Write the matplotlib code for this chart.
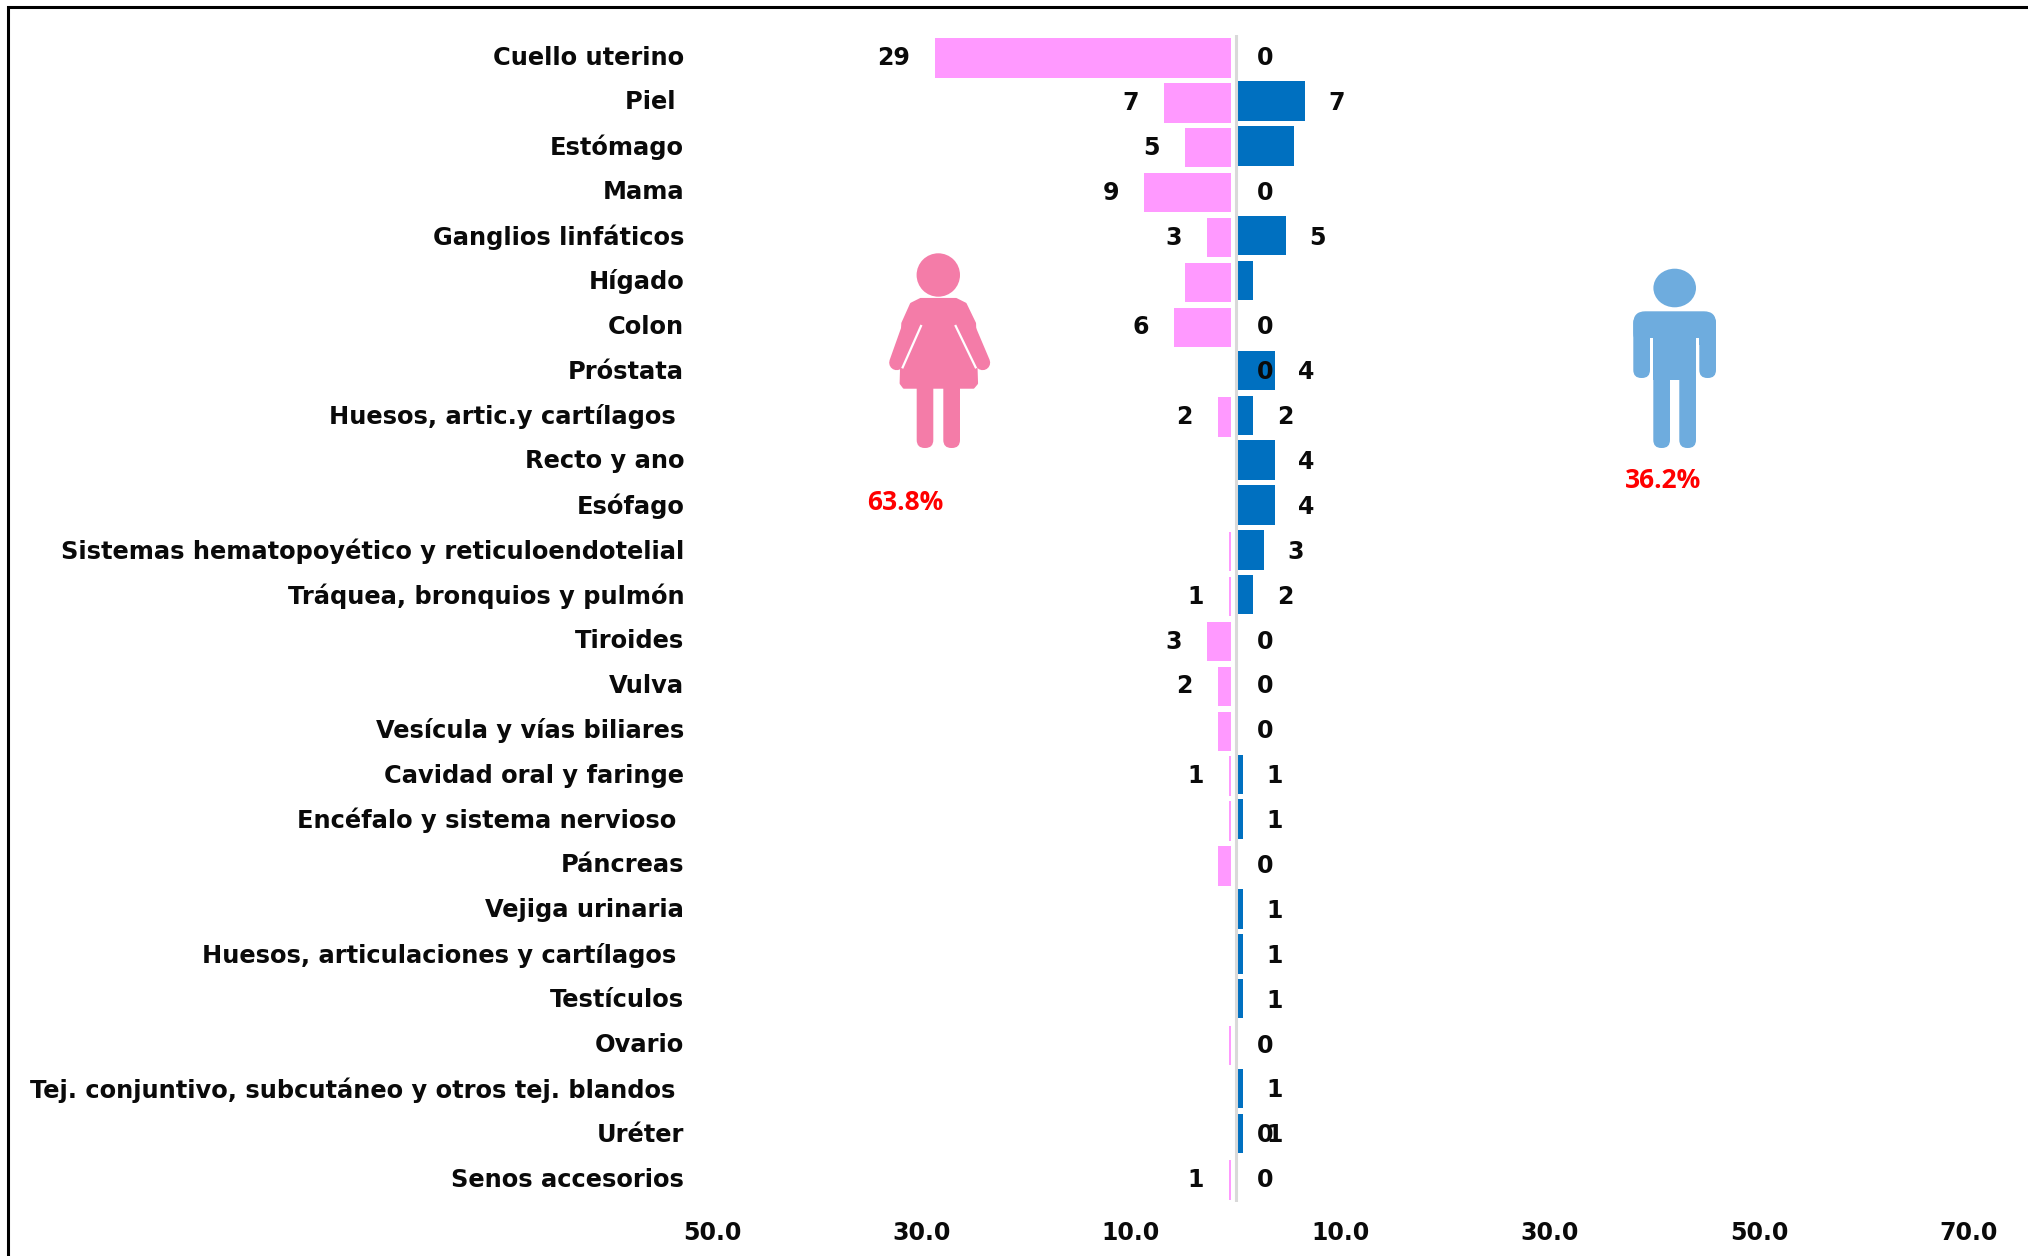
import matplotlib
matplotlib.use('Agg')
import matplotlib.pyplot as plt
from matplotlib.patches import Ellipse, FancyBboxPatch, Polygon, Rectangle
from matplotlib.ticker import FuncFormatter

categories = ['Cuello uterino', 'Piel ', 'Estómago', 'Mama', 'Ganglios linfáticos', 'Hígado', 'Colon',
              'Próstata', 'Huesos, artic.y cartílagos ', 'Recto y ano', 'Esófago',
              'Sistemas hematopoyético y reticuloendotelial', 'Tráquea, bronquios y pulmón', 'Tiroides',
              'Vulva', 'Vesícula y vías biliares', 'Cavidad oral y faringe', 'Encéfalo y sistema nervioso ',
              'Páncreas', 'Vejiga urinaria', 'Huesos, articulaciones y cartílagos ', 'Testículos', 'Ovario',
              'Tej. conjuntivo, subcutáneo y otros tej. blandos ', 'Uréter', 'Senos accesorios']

# bar lengths
mujeres = [28.3, 6.47, 4.42, 8.3, 2.3, 4.42, 5.44, 0, 1.28, 0, 0, 0.22, 0.22, 2.3, 1.28, 1.28, 0.22, 0.22,
           1.28, 0, 0, 0, 0.22, 0, 0, 0.22]
hombres = [0, 6.5, 5.44, 0, 4.68, 1.56, 0, 3.63, 1.56, 3.63, 3.63, 2.58, 1.56, 0, 0, 0, 0.54, 0.54,
           0, 0.54, 0.54, 0.54, 0, 0.54, 0.54, 0]

# printed labels, None where the chart shows nothing
etiq_mujeres = [29, 7, 5, 9, 3, None, 6, 0, 2, None, None, None, 1, 3, 2, None, 1, None, None, None, None,
                None, None, None, 0, 1]
etiq_hombres = [0, 7, None, 0, 5, None, 0, 4, 2, 4, 4, 3, 2, 0, 0, 0, 1, 1, 0, 1, 1, 1, 0, 1, 1, 0]

xticks = [-50, -30, -10, 10, 30, 50, 70]
pct_mujeres = '63.8%'
pct_hombres = '36.2%'

W, H = 2028, 1256
ROSA = '#FF99FF'
AZUL = '#0070C0'
ICONO_M = '#F47CA8'
ICONO_H = '#6EACDE'
NEGRO = '#0A0A0A'

fig = plt.figure(figsize=(W / 100, H / 100), dpi=100, facecolor='white')
ax = fig.add_axes([712 / W, 1 - 1201.6 / H, (1969 - 712) / W, (1201.6 - 34.6) / H])
ax.set_xlim(-50, 70)
ax.set_ylim(25.5, -0.5)

y = list(range(len(categories)))
ax.barh([i + 0.02 for i in y], [-v for v in mujeres], left=-0.42, height=0.878, color=ROSA)
ax.barh([i - 0.02 for i in y], hombres, left=0.12, height=0.878, color=AZUL)
ax.axvline(0, color='#D9D9D9', lw=2.2, zorder=3)

# ticks a little above the row centre, the labels sit high in the reference
ax.set_yticks([i - 0.045 for i in y])
ax.set_yticklabels(categories, fontsize=17.35, fontweight='bold', color=NEGRO, va='center_baseline')
ax.set_xticks(xticks)
ax.xaxis.set_major_formatter(FuncFormatter(lambda v, p: '%.1f' % abs(v)))
for t in ax.get_xticklabels():
    t.set_fontsize(17)
    t.set_fontweight('bold')
    t.set_color(NEGRO)
ax.tick_params(axis='x', length=0, pad=14)
ax.tick_params(axis='y', length=0, pad=20)
for s in ax.spines.values():
    s.set_visible(False)


def etiqueta(txt, x, i, dx, ha):
    ax.annotate(str(txt), (x, i), xytext=(dx, -1), textcoords='offset pixels', ha=ha, va='center',
                fontsize=17, fontweight='bold', color=NEGRO)


for i in y:
    for lab in (etiq_mujeres[i], etiq_hombres[i]):
        if lab == 0:
            etiqueta(lab, 0, i, 29, 'center')
    if etiq_mujeres[i]:
        etiqueta(etiq_mujeres[i], -0.42 - mujeres[i], i, -25, 'right')
    if etiq_hombres[i]:
        etiqueta(etiq_hombres[i], 0.12 + hombres[i], i, 31.5, 'center')

# overlay in picture pixels for the frame and the two figures
ov = fig.add_axes([0, 0, 1, 1], facecolor='none')
ov.set_xlim(0, W)
ov.set_ylim(H, 0)
ov.axis('off')
ov.plot([8, 8, W], [H, 6.5, 6.5], color='black', lw=2.2, solid_joinstyle='miter')


def caja(a, x0, y0, x1, y1, r, c):
    a.add_patch(FancyBboxPatch((x0 + r, y0 + r), x1 - x0 - 2 * r, y1 - y0 - 2 * r,
                               boxstyle='round,pad=%f' % r, fc=c, ec='none'))


# hombre
ov.add_patch(Ellipse((1674.7, 288), 42.6, 38.6, fc=ICONO_H, ec='none'))
caja(ov, 1633.3, 311.3, 1716, 345, 12, ICONO_H)
caja(ov, 1633.3, 315, 1650, 378, 8, ICONO_H)
caja(ov, 1699.3, 315, 1716, 378, 8, ICONO_H)
ov.add_patch(Rectangle((1653.3, 320), 42.7, 60, fc=ICONO_H, ec='none'))
caja(ov, 1653.3, 360, 1670, 448, 8, ICONO_H)
caja(ov, 1679.3, 360, 1696, 448, 8, ICONO_H)
ov.add_patch(Rectangle((1650, 338), 3.3, 42, fc='white', ec='none'))
ov.add_patch(Rectangle((1696, 338), 3.3, 42, fc='white', ec='none'))


# mujer
def z(px, py):
    return (880 + px / 3, 240 + py / 3)


ov.add_patch(Ellipse((938.3, 275), 43.4, 43.4, fc=ICONO_M, ec='none'))
ov.plot(*zip(z(92, 250), z(50, 368)), color=ICONO_M, lw=10.8, solid_capstyle='round')
ov.plot(*zip(z(258, 250), z(308, 368)), color=ICONO_M, lw=10.8, solid_capstyle='round')
ov.add_patch(Polygon([z(122, 178), z(228, 178), z(256, 192), z(284, 250), z(290, 430), z(280, 442),
                      z(72, 442), z(63, 430), z(68, 250), z(94, 192)], closed=True, fc=ICONO_M,
                     ec=ICONO_M, lw=2, joinstyle='round'))
ov.plot(*zip(z(123, 258), z(68, 382)), color='white', lw=1.6)
ov.plot(*zip(z(227, 258), z(287, 382)), color='white', lw=1.6)
ov.add_patch(Rectangle((880, 340), 10, 40, fc='white', ec='none'))
caja(ov, 916.7, 370, 933.3, 448, 8, ICONO_M)
caja(ov, 943.3, 370, 960, 448, 8, ICONO_M)

ov.text(905, 503, pct_mujeres, color='red', fontsize=19, fontweight='bold', family='Open Sans',
        ha='center', va='center')
ov.text(1663, 480, pct_hombres, color='red', fontsize=19, fontweight='bold', family='Open Sans',
        ha='center', va='center')

fig.savefig('out.png', dpi=100)
